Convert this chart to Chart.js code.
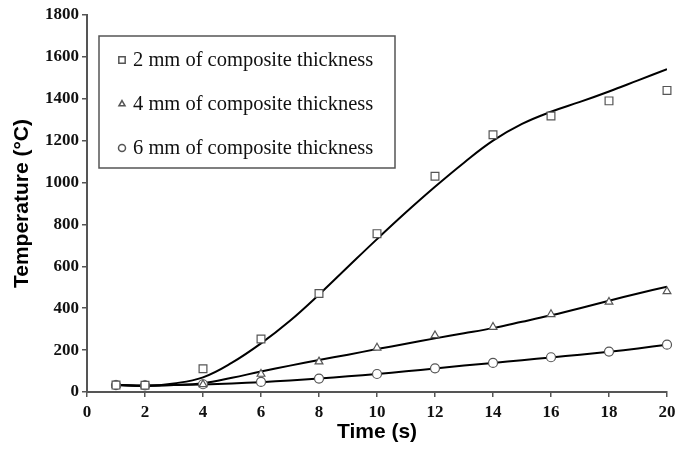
<!DOCTYPE html>
<html>
<head>
<meta charset="utf-8">
<script src="https://cdn.jsdelivr.net/npm/chart.js@4/dist/chart.umd.min.js"></script>
<style>
  html, body { margin: 0; padding: 0; background: #fff; }
  #wrap { width: 694px; height: 454px; position: relative; }
</style>
</head>
<body>
<div id="wrap"><canvas id="tempChart"></canvas></div>
<script>
// Measured points (time in s, temperature in °C)
const measuredTimes = [1, 2, 4, 6, 8, 10, 12, 14, 16, 18, 20];
const temp2mm = [33, 32, 111, 253, 470, 756, 1030, 1228, 1318, 1390, 1440];
const temp4mm = [33, 31, 36, 86, 145, 211, 270, 310, 371, 430, 480];
const temp6mm = [33, 32, 37, 48, 64, 86, 113, 139, 166, 193, 226];

// Fitted curves, every second
const fitTimes = [1, 2, 3, 4, 5, 6, 7, 8, 9, 10, 11, 12, 13, 14, 15, 16, 17, 18, 19, 20];
const fit2mm = [35, 29, 41, 70, 140, 232, 340, 465, 598, 730, 858, 980, 1095, 1200, 1280, 1338, 1385, 1435, 1488, 1541];
const fit4mm = [33, 30, 33, 42, 68, 98, 126, 153, 178, 205, 230, 256, 280, 305, 335, 366, 400, 436, 470, 503];
const fit6mm = [33, 31, 33, 36, 41, 47, 55, 64, 75, 86, 99, 112, 126, 139, 152, 165, 178, 192, 208, 226];

const seriesLabels = ['2 mm of composite thickness', '4 mm of composite thickness', '6 mm of composite thickness'];
const xTicks = [0, 2, 4, 6, 8, 10, 12, 14, 16, 18, 20];

const axisGrey = '#555555';

function toPoints(xs, ys) {
    return xs.map((x, i) => ({ x: x, y: ys[i] }));
}

function markerSet(label, ys, style, radius) {
    return {
        label: label,
        data: toPoints(measuredTimes, ys),
        showLine: false,
        pointStyle: style,
        pointRadius: radius,
        pointBorderWidth: 1.2,
        pointBorderColor: axisGrey,
        pointBackgroundColor: '#ffffff',
        clip: false,
        order: 0
    };
}

function fitSet(ys) {
    return {
        label: '',
        data: toPoints(fitTimes, ys),
        showLine: true,
        borderColor: '#000000',
        borderWidth: 2,
        tension: 0.4,
        pointRadius: 0,
        order: 1
    };
}

// Boxed legend in the upper-left of the plot
const boxLegend = {
    id: 'boxLegend',
    afterDatasetsDraw(chart) {
        const ctx = chart.ctx;
        ctx.save();
        ctx.strokeStyle = axisGrey;
        ctx.lineWidth = 1.5;
        ctx.fillStyle = '#ffffff';
        ctx.fillRect(99, 36, 296, 132);
        ctx.strokeRect(99, 36, 296, 132);
        ctx.font = '20.5px "Liberation Serif"';
        ctx.textBaseline = 'middle';
        for (let i = 0; i < 3; i++) {
            const ds = chart.data.datasets[i];
            const y = 60 + i * 44;
            ctx.fillStyle = '#ffffff';
            Chart.helpers.drawPoint(ctx, {
                pointStyle: ds.pointStyle,
                radius: ds.pointRadius - 1,
                borderWidth: 1
            }, 122, y);
            ctx.fillStyle = '#111111';
            ctx.fillText(ds.label, 133, y + 1);
        }
        ctx.restore();
    }
};

const ctx = document.getElementById('tempChart').getContext('2d');
new Chart(ctx, {
    type: 'scatter',
    data: {
        datasets: [
            markerSet(seriesLabels[0], temp2mm, 'rect', 5.5),
            markerSet(seriesLabels[1], temp4mm, 'triangle', 4.5),
            markerSet(seriesLabels[2], temp6mm, 'circle', 4.5),
            fitSet(fit2mm),
            fitSet(fit4mm),
            fitSet(fit6mm)
        ]
    },
    options: {
        responsive: true,
        maintainAspectRatio: false,
        animation: false,
        layout: {
            padding: { top: 15, right: 27, bottom: 0, left: 0 }
        },
        plugins: {
            legend: { display: false },
            tooltip: { enabled: false }
        },
        scales: {
            x: {
                type: 'linear',
                min: 0,
                max: 20,
                afterBuildTicks: function(scale) {
                    scale.ticks = xTicks.map(v => ({ value: v }));
                },
                afterFit: function(scale) {
                    scale.height = 62;
                },
                border: { display: true, color: axisGrey, width: 2 },
                grid: {
                    drawOnChartArea: false,
                    drawTicks: true,
                    tickLength: 5,
                    color: axisGrey,
                    lineWidth: 1.5
                },
                ticks: {
                    color: '#111111',
                    padding: 5,
                    maxRotation: 0,
                    callback: v => String(v),
                    font: { family: '"Liberation Serif"', size: 17, weight: 'bold' }
                },
                title: {
                    display: true,
                    text: 'Time (s)',
                    color: '#000000',
                    padding: { top: 0, bottom: 9 },
                    font: { family: '"Liberation Sans"', size: 21, weight: 'bold' }
                }
            },
            y: {
                type: 'linear',
                min: 0,
                max: 1800,
                afterFit: function(scale) {
                    scale.width = 87;
                },
                border: { display: true, color: axisGrey, width: 2 },
                grid: {
                    drawOnChartArea: false,
                    drawTicks: true,
                    tickLength: 5,
                    color: axisGrey,
                    lineWidth: 1.5
                },
                ticks: {
                    stepSize: 200,
                    color: '#111111',
                    padding: 3,
                    callback: v => String(v),
                    font: { family: '"Liberation Serif"', size: 17, weight: 'bold' }
                },
                title: {
                    display: true,
                    text: 'Temperature (°C)',
                    color: '#000000',
                    padding: { top: 10, bottom: 0 },
                    font: { family: '"Liberation Sans"', size: 21, weight: 'bold' }
                }
            }
        }
    },
    plugins: [boxLegend]
});
</script>
</body>
</html>
